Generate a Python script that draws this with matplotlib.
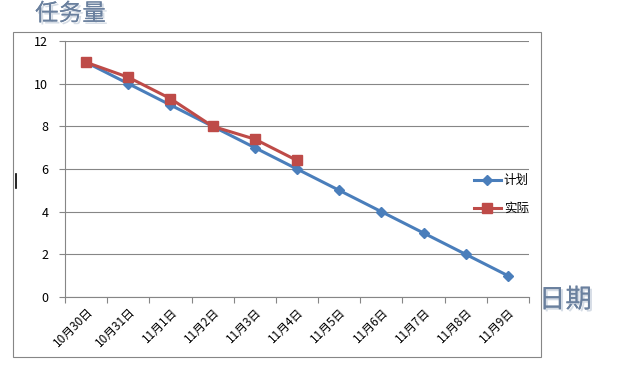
import matplotlib
matplotlib.use("Agg")
import matplotlib.pyplot as plt
import matplotlib.patheffects as pe
from matplotlib.patches import Rectangle
from matplotlib.lines import Line2D

plt.rcParams['font.family'] = ['Noto Sans CJK SC', 'DejaVu Sans']

# Data
dates = ["10月30日", "10月31日", "11月1日", "11月2日", "11月3日", "11月4日",
         "11月5日", "11月6日", "11月7日", "11月8日", "11月9日"]
plan = [11, 10, 9, 8, 7, 6, 5, 4, 3, 2, 1]
actual = [11, 10.3, 9.3, 8, 7.4, 6.4]

fig = plt.figure(figsize=(6.19, 3.73), dpi=100)

# outer chart frame
fig.patches.append(Rectangle((13 / 619, 1 - 357 / 373), 528 / 619, 325 / 373,
                             transform=fig.transFigure, fill=False,
                             edgecolor="#868686", linewidth=0.8))

ax = fig.add_axes([65 / 619, 1 - 297 / 373, 464 / 619, 256 / 373])

x = list(range(len(dates)))
ax.plot(x, plan, color="#4A7EBB", linewidth=2.2, marker="D", markersize=5,
        label="计划")
ax.plot(x[:len(actual)], actual, color="#BE4B48", linewidth=2.2, marker="s",
        markersize=7, label="实际")

ax.set_xlim(-0.5, len(dates) - 0.5)
ax.set_ylim(0, 12)
ax.set_yticks(range(0, 13, 2))
ax.set_yticklabels([str(v) for v in range(0, 13, 2)], fontsize=9)
ax.set_xticks([i - 0.5 for i in range(len(dates) + 1)])
ax.set_xticklabels([])
ax.set_xticks(x, minor=True)
ax.set_xticklabels(dates, minor=True, rotation=45, ha="right",
                   rotation_mode="anchor", fontsize=8.5)
ax.tick_params(axis="x", which="minor", length=0, pad=6)
ax.tick_params(axis="x", which="major", length=4, color="#868686", direction="out")
ax.tick_params(axis="y", length=4, color="#868686", direction="out", pad=8)

ax.grid(axis="y", color="#868686", linewidth=0.8)
ax.set_axisbelow(True)
for side in ["top", "right"]:
    ax.spines[side].set_visible(False)
for side in ["left", "bottom"]:
    ax.spines[side].set_color("#868686")
    ax.spines[side].set_linewidth(0.8)

leg = ax.legend(loc="center left", bbox_to_anchor=(0.87, 0.40), frameon=False,
                fontsize=9, handlelength=2.2, handletextpad=0.2,
                labelspacing=1.2, borderaxespad=0)

shadow = [pe.withSimplePatchShadow(offset=(1.5, -1.5), shadow_rgbFace="#c4cedb", alpha=0.7),
          pe.Normal()]
fig.text(35 / 619, 1 - 14 / 373, "任务量", fontsize=17, color="#6A809E",
         fontweight="light", va="center", ha="left", path_effects=shadow)
fig.text(539 / 619, 1 - 300 / 373, "日期", fontsize=19, color="#6A809E",
         fontweight="light", va="center", ha="left", path_effects=shadow)

# stray cursor mark at left
fig.lines.append(Line2D([16 / 619, 16 / 619], [1 - 174 / 373, 1 - 188 / 373],
                        transform=fig.transFigure, color="black", linewidth=1.2))

fig.savefig("out.png", dpi=100)
